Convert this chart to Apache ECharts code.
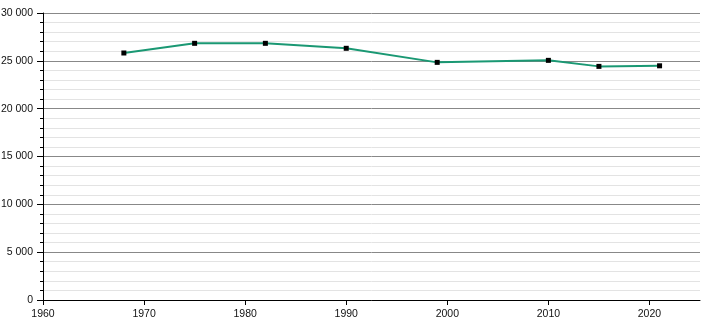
<!DOCTYPE html>
<html>
<head>
<meta charset="utf-8">
<script src="https://cdn.jsdelivr.net/npm/echarts@6/dist/echarts.min.js"></script>
<style>html,body{margin:0;padding:0;background:#fff}#c{width:710px;height:320px}</style>
</head>
<body>
<div id="c"></div>
<script>
var years = [1968, 1975, 1982, 1990, 1999, 2010, 2015, 2021];
var population = [25820, 26830, 26830, 26310, 24840, 25050, 24420, 24480];
var xTicks = [1960, 1970, 1980, 1990, 2000, 2010, 2020];
var yTicks = [0, 5000, 10000, 15000, 20000, 25000, 30000];

function fmt(v) {
  return String(v).replace(/\B(?=(\d{3})+(?!\d))/g, ' ');
}
var data = years.map(function (y, i) { return [y, population[i]]; });
var chart = echarts.init(document.getElementById('c'), null, {renderer: 'canvas'});
chart.setOption({
  animation: false,
  grid: {left: 43, right: 10, top: 13, bottom: 20, containLabel: false, outerBoundsMode: 'none'},
  xAxis: {
    type: 'value', min: 1960, max: 2025, interval: 10,
    axisLine: {show: true, lineStyle: {color: '#000', width: 1}},
    axisTick: {show: true, length: 5, lineStyle: {color: '#000'}, customValues: xTicks},
    axisLabel: {color: '#111', fontFamily: 'Liberation Sans, Arial, sans-serif', fontSize: 10.5, margin: 9, customValues: xTicks, formatter: function (v) { return String(v); }},
    splitLine: {show: false}
  },
  yAxis: {
    type: 'value', min: 0, max: 30000, interval: 5000,
    axisLine: {show: true, lineStyle: {color: '#000', width: 1}},
    axisTick: {show: true, length: 6, lineStyle: {color: '#000'}},
    minorTick: {show: true, splitNumber: 5, length: 3, lineStyle: {color: '#000'}},
    minorSplitLine: {show: true, lineStyle: {color: '#e3e3e3', width: 1}},
    splitLine: {show: true, lineStyle: {color: '#888', width: 1}},
    axisLabel: {color: '#111', fontFamily: 'Liberation Sans, Arial, sans-serif', fontSize: 10.5, margin: 10, formatter: function (v) { return fmt(v); }}
  },
  series: [{
    type: 'line',
    data: data,
    symbol: 'rect',
    symbolSize: 5,
    itemStyle: {color: '#000'},
    lineStyle: {color: '#1a9873', width: 2},
    z: 3
  }]
});
</script>
</body>
</html>
